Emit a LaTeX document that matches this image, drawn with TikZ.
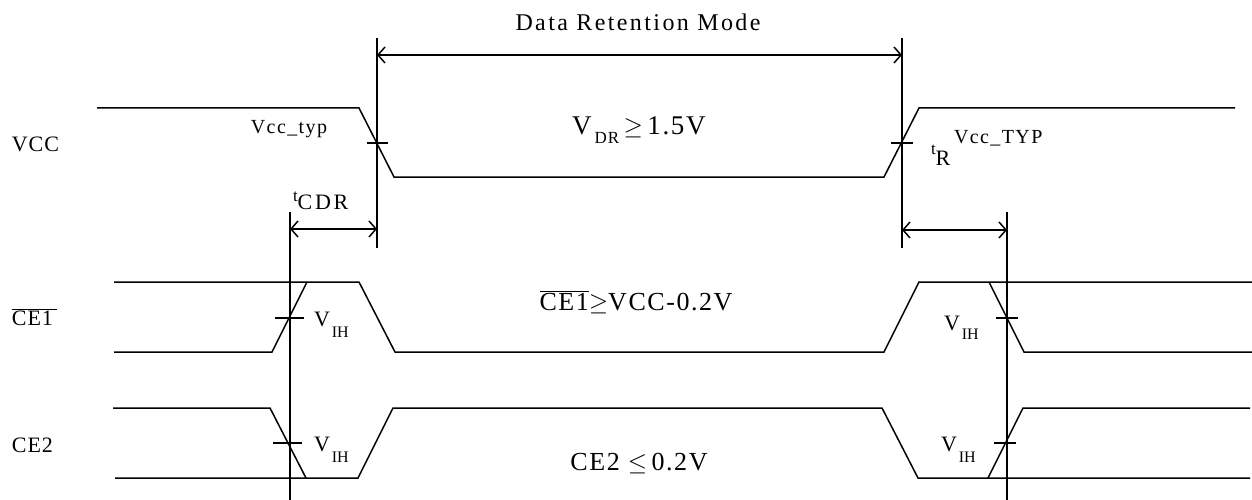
\documentclass[tikz,border=0pt]{standalone}
\usepackage{fontspec}
\setmainfont{Liberation Serif}
\usetikzlibrary{arrows.meta}
\newcommand{\fsz}[1]{\fontsize{#1}{#1}\selectfont}
\newcommand{\lsp}[1]{\addfontfeature{LetterSpace=#1}}
\begin{document}
\begin{tikzpicture}[x=1pt,y=-1pt,
  sig/.style={line width=1.5pt},
  guide/.style={line width=1.5pt},
  meas/.style={line width=1.5pt,{Straight Barb[length=7pt,width=16pt,line width=1.5pt]}-{Straight Barb[length=7pt,width=16pt,line width=1.5pt]}},
  txt/.style={inner sep=0pt,outer sep=0pt}]
\useasboundingbox (0,0) rectangle (1252,500);
% guide verticals
\coordinate (a1) at (290,212); \coordinate (a2) at (290,500);
\coordinate (b1) at (377,38);  \coordinate (b2) at (377,248);
\coordinate (c1) at (902,38);  \coordinate (c2) at (902,248);
\coordinate (d1) at (1007,212); \coordinate (d2) at (1007,500);
\draw[guide] (a1) -- (a2);
\draw[guide] (b1) -- (b2);
\draw[guide] (c1) -- (c2);
\draw[guide] (d1) -- (d2);
% dimension arrows
\coordinate (m1) at (377,55); \coordinate (m2) at (902,55);
\coordinate (t1) at (290,229); \coordinate (t2) at (377,229);
\coordinate (r1) at (902,230); \coordinate (r2) at (1007,230);
\draw[meas] (m1) -- (m2);
\draw[meas] (t1) -- (t2);
\draw[meas] (r1) -- (r2);
% VCC
\draw[sig] (97,108) -- (359,108) -- (394,177) -- (884,177) -- (919,108) -- (1235,108);
% CE1 bar
\draw[sig] (114,282) -- (359,282) -- (395,352) -- (884,352) -- (919,282) -- (1252,282);
\draw[sig] (114,352) -- (272,352) -- (307,282);
\draw[sig] (989,282) -- (1024,352) -- (1252,352);
% CE2
\draw[sig] (113,408) -- (270,408) -- (306,478);
\draw[sig] (115,478) -- (358,478) -- (393,408) -- (882,408) -- (918,478) -- (1250,478);
\draw[sig] (988,478) -- (1023,408) -- (1250,408);
% ticks
\draw[sig] (367,143) -- (388,143);
\draw[sig] (891,143) -- (913,143);
\draw[sig] (275,318) -- (304,318);
\draw[sig] (273,443) -- (302,443);
\draw[sig] (996,318) -- (1018,318);
\draw[sig] (994,443) -- (1016,443);
% texts
\node[txt,anchor=base] (title) at (638,31) {\fsz{24}\lsp{10}Data Retention Mode};
\node[txt,anchor=base west] (lvcc) at (12,151) {\fsz{22}\lsp{4}VCC};
\node[txt,anchor=base west] (lce1) at (12,325) {\fsz{22}\lsp{4}$\overline{\mbox{\fsz{22}\lsp{4}CE1\,}}$};
\node[txt,anchor=base west] (lce2) at (12,452) {\fsz{22}\lsp{4}CE2};
\node[txt,anchor=base] (vtyp) at (289,134) {\fsz{20}\lsp{7}Vcc\_typ};
\node[txt,anchor=base west] (vdr) at (572,135) {\fsz{27}V\hspace{3pt}\raisebox{-9pt}{\fsz{17}\lsp{6}DR}\,$\geq$\,\lsp{6}1.5V};
\node[txt,anchor=base] (ce1c) at (636,310) {\fsz{26}\lsp{6}$\overline{\mbox{\fsz{26}\lsp{6}CE1}}$$\geq$VCC-0.2V};
\node[txt,anchor=base] (ce2c) at (639,470) {\fsz{26}\lsp{6}CE2 $\leq$\,0.2V};
\node[txt,anchor=base west] (tcdr) at (293,209) {\raisebox{8pt}{\fsz{17}t}\fsz{22}\lsp{12}CDR};
\node[txt,anchor=base west] (tr) at (931,165) {\raisebox{11pt}{\fsz{17}t}\fsz{22}R};
\node[txt,anchor=base west] (vtyp2) at (954,143) {\fsz{20}\lsp{7}Vcc\_TYP};
\node[txt,anchor=base west] (vih1) at (314,326) {\fsz{22}V\hspace{2pt}\raisebox{-11pt}{\fsz{16}IH}};
\node[txt,anchor=base west] (vih2) at (314,451) {\fsz{22}V\hspace{2pt}\raisebox{-11pt}{\fsz{16}IH}};
\node[txt,anchor=base west] (vih3) at (944,330) {\fsz{22}V\hspace{2pt}\raisebox{-9pt}{\fsz{16}IH}};
\node[txt,anchor=base west] (vih4) at (941,451) {\fsz{22}V\hspace{2pt}\raisebox{-11pt}{\fsz{16}IH}};
\end{tikzpicture}
\end{document}
